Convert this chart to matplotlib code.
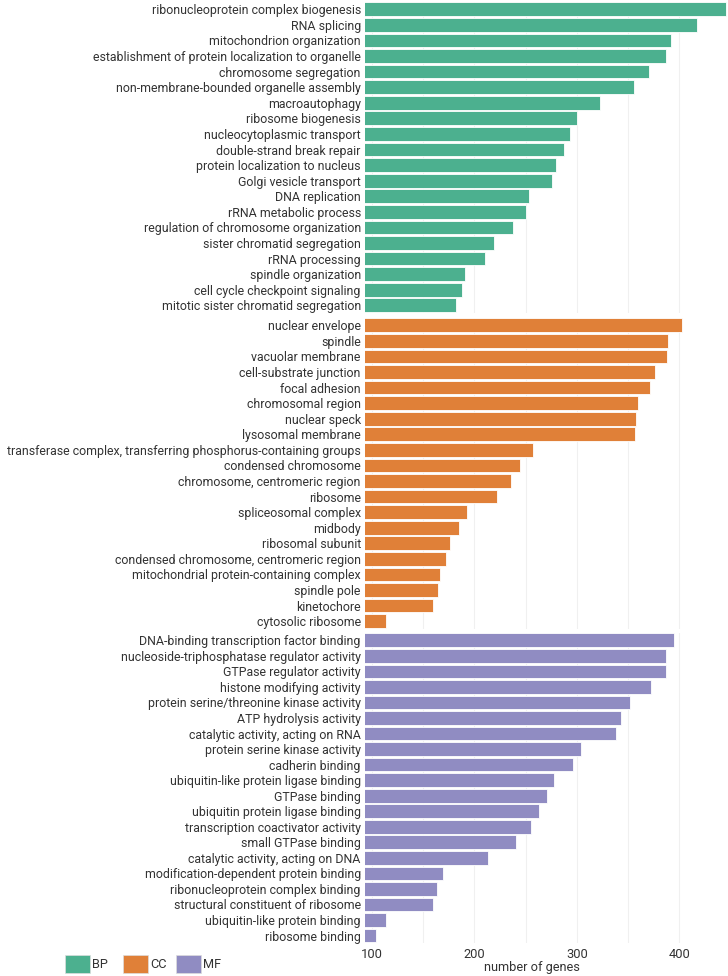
import matplotlib
matplotlib.use("Agg")
import matplotlib.pyplot as plt
from matplotlib.patches import Rectangle

plt.rcParams['font.family'] = ['Roboto', 'DejaVu Sans']

bp_terms = ["ribonucleoprotein complex biogenesis", "RNA splicing", "mitochondrion organization",
            "establishment of protein localization to organelle", "chromosome segregation",
            "non-membrane-bounded organelle assembly", "macroautophagy", "ribosome biogenesis",
            "nucleocytoplasmic transport", "double-strand break repair", "protein localization to nucleus",
            "Golgi vesicle transport", "DNA replication", "rRNA metabolic process",
            "regulation of chromosome organization", "sister chromatid segregation", "rRNA processing",
            "spindle organization", "cell cycle checkpoint signaling", "mitotic sister chromatid segregation"]
bp_values = [446, 417, 392, 387, 370, 356, 323, 300, 293, 288, 280, 276, 253, 250, 238, 219, 210, 191, 188, 182]

cc_terms = ["nuclear envelope", "spindle", "vacuolar membrane", "cell-substrate junction", "focal adhesion",
            "chromosomal region", "nuclear speck", "lysosomal membrane",
            "transferase complex, transferring phosphorus-containing groups", "condensed chromosome",
            "chromosome, centromeric region", "ribosome", "spliceosomal complex", "midbody",
            "ribosomal subunit", "condensed chromosome, centromeric region",
            "mitochondrial protein-containing complex", "spindle pole", "kinetochore", "cytosolic ribosome"]
cc_values = [403, 389, 388, 376, 371, 360, 358, 357, 257, 245, 236, 222, 193, 185, 176, 172, 167, 165, 160, 114]

mf_terms = ["DNA-binding transcription factor binding", "nucleoside-triphosphatase regulator activity",
            "GTPase regulator activity", "histone modifying activity", "protein serine/threonine kinase activity",
            "ATP hydrolysis activity", "catalytic activity, acting on RNA", "protein serine kinase activity",
            "cadherin binding", "ubiquitin-like protein ligase binding", "GTPase binding",
            "ubiquitin protein ligase binding", "transcription coactivator activity", "small GTPase binding",
            "catalytic activity, acting on DNA", "modification-dependent protein binding",
            "ribonucleoprotein complex binding", "structural constituent of ribosome",
            "ubiquitin-like protein binding", "ribosome binding"]
mf_values = [395, 387, 387, 372, 352, 343, 338, 304, 296, 278, 271, 263, 255, 241, 213, 169, 164, 160, 114, 104]

categories = ["BP", "CC", "MF"]
colors = ["#4cb08f", "#e08038", "#908cc2"]
x_ticks = [100, 200, 300, 400]
x_title = "number of genes"

W, H = 728, 976
fig = plt.figure(figsize=(W / 100, H / 100), dpi=100)
text_color = "#333333"
fs = 8.95

# axes in pixel coordinates: (top, bottom)
panels = [(1.5, 313.1), (317.5, 629.0), (632.5, 943.3)]
x_left_px, x_right_px = 365, 728
xmin, xmax = 93.4, 447.5

groups = [(bp_terms, bp_values), (cc_terms, cc_values), (mf_terms, mf_values)]
for i, ((terms, vals), (top, bot)) in enumerate(zip(groups, panels)):
    ax = fig.add_axes([x_left_px / W, 1 - bot / H, (x_right_px - x_left_px) / W, (bot - top) / H])
    y = list(range(len(terms)))
    ax.barh(y, vals, height=0.88, color=colors[i], edgecolor="white", linewidth=0.6, zorder=2)
    ax.set_ylim(len(terms) - 0.5, -0.5)
    ax.set_xlim(xmin, xmax)
    ax.set_yticks(y)
    ax.set_yticklabels(terms, fontsize=fs, color=text_color)
    ax.tick_params(axis="y", length=0, pad=3)
    ax.set_xticks(x_ticks)
    ax.set_xticks([150, 250, 350], minor=True)
    ax.grid(axis="x", which="both", color="#f0f0f0", linewidth=0.8, zorder=0)
    ax.set_axisbelow(True)
    ax.tick_params(axis="x", which="both", length=0)
    if i < 2:
        ax.set_xticklabels([])
    else:
        ax.set_xticklabels([str(t) for t in x_ticks], fontsize=fs + 0.3, color=text_color)
        ax.tick_params(axis="x", pad=3.5)
    for s in ax.spines.values():
        s.set_visible(False)
    ax.patch.set_alpha(0)

fig.text(531.7 / W, 1 - 967 / H, x_title, ha="center", va="center", fontsize=fs + 0.2, color=text_color)

# legend
leg_x = [65, 123, 176]
for cat, col, lx in zip(categories, colors, leg_x):
    fig.patches.append(Rectangle((lx / W, 1 - 973 / H), 25 / W, 18 / H, transform=fig.transFigure,
                                 facecolor=col, edgecolor="#dddddd", linewidth=0.5, figure=fig))
    fig.text((lx + 27) / W, 1 - 964 / H, cat, ha="left", va="center", fontsize=fs + 0.2, color=text_color)

fig.savefig("out.png", dpi=100)
